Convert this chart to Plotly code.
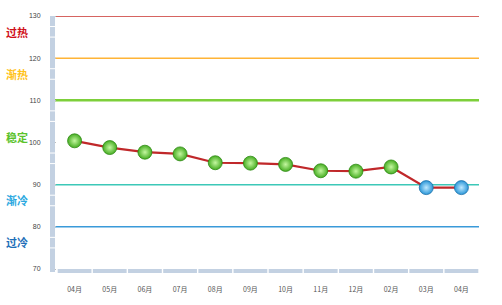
import plotly.graph_objects as go

months = ["04月", "05月", "06月", "07月", "08月", "09月", "10月", "11月", "12月", "02月", "03月", "04月"]
values = [100.4, 98.8, 97.7, 97.3, 95.2, 95.1, 94.8, 93.3, 93.2, 94.2, 89.3, 89.3]
levels = [130, 120, 110, 90, 80]
level_colors = ["#c8302c", "#ffb437", "#7dcf3a", "#3cc8b8", "#3a9ad9"]
level_widths = [1.5, 1.5, 2.5, 1.5, 1.5]
zone_names = ["过热", "渐热", "稳定", "渐冷", "过冷"]
zone_pos = [126.2, 116.3, 101.3, 86.4, 76.4]
zone_colors = ["#d0101a", "#ffc21a", "#5cc22c", "#2aa8e0", "#1e6fb8"]
y_ticks = [70, 80, 90, 100, 110, 120, 130]

xs = list(range(len(months)))
cold = [v < 90 for v in values]
body_col = ["#2a96d8" if c else "#46ad22" for c in cold]
center_col = ["#bfe9ff" if c else "#c4f7a0" for c in cold]
edge_col = ["#1a70a8" if c else "#2e8a14" for c in cold]

fig = go.Figure()
# level lines
for lv, col, w in zip(levels, level_colors, level_widths):
    fig.add_shape(type="line", xref="paper", yref="y", x0=-0.005, x1=1.0, y0=lv, y1=lv,
                  line=dict(color=col, width=w), layer="below")

# data line
fig.add_trace(go.Scatter(x=xs, y=values, mode="lines",
                         line=dict(color="#c0282a", width=2.2), hoverinfo="skip", showlegend=False))
fig.add_trace(go.Scatter(x=xs, y=values, mode="markers",
                         marker=dict(size=14, color=body_col,
                                     gradient=dict(type="radial", color=center_col),
                                     line=dict(color=edge_col, width=0.8)),
                         showlegend=False))

# y axis bar
fig.add_shape(type="rect", xref="paper", yref="paper", x0=-0.0166, x1=-0.0047, y0=-0.012, y1=1.0,
              fillcolor="#c3d1e2", line=dict(width=0))
for t in y_ticks[1:]:
    for off in (-2.5, 0):
        fig.add_shape(type="line", xref="paper", yref="y", x0=-0.0166, x1=-0.0047,
                      y0=t - 5 + off + 2.5, y1=t - 5 + off + 2.5,
                      line=dict(color="white", width=1))
# x axis bar segments
for i in xs:
    fig.add_shape(type="rect", xref="x", yref="paper", x0=i - 0.48, x1=i + 0.48, y0=-0.016, y1=0.0,
                  fillcolor="#c3d1e2", line=dict(width=0))

# zone labels
for name, pos, col in zip(zone_names, zone_pos, zone_colors):
    fig.add_annotation(x=-0.095, xref="paper", y=pos, yref="y", text="<b>" + name + "</b>",
                       showarrow=False, xanchor="center",
                       font=dict(size=11, color=col, family="Noto Sans CJK SC"))

fig.update_layout(
    width=502, height=305,
    margin=dict(l=57, r=23, t=16, b=36),
    paper_bgcolor="white", plot_bgcolor="white",
    font=dict(family="Arial, Liberation Sans, sans-serif"),
    xaxis=dict(range=[-0.5, 11.5], tickvals=xs, ticktext=months, showgrid=False, zeroline=False,
               showline=False, ticks="", tickfont=dict(size=7, color="#555555",
               family="Noto Sans CJK SC"), ticklabelstandoff=15),
    yaxis=dict(range=[70, 130], tickvals=y_ticks, showgrid=False, zeroline=False, showline=False,
               ticks="outside", ticklen=5, tickcolor="#bbbbbb", tickfont=dict(size=7, color="#444444"),
               ticklabelstandoff=9),
)

fig.write_html("out.html")
